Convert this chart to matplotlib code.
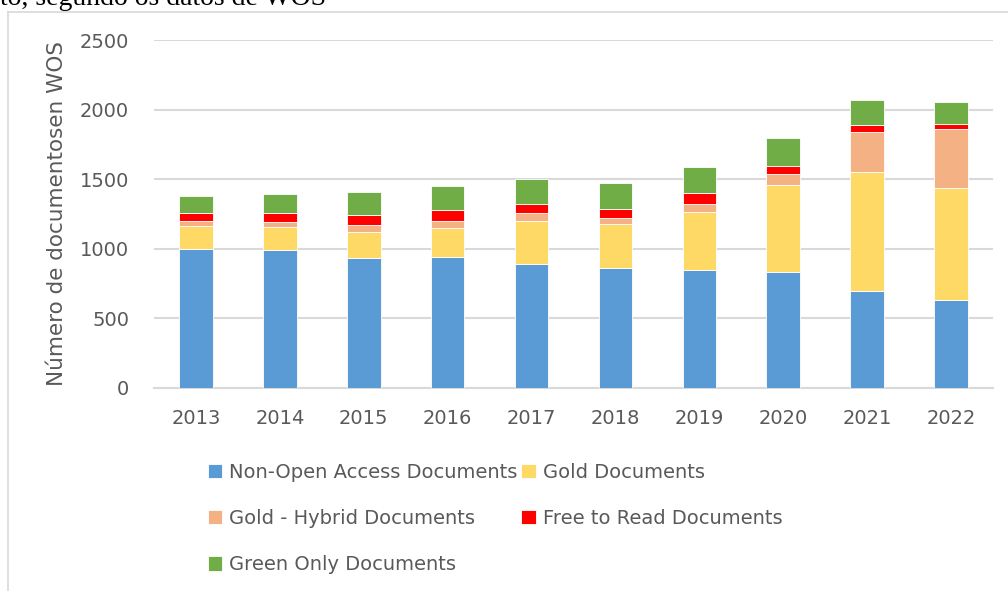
import numpy as np
import matplotlib.pyplot as plt
from matplotlib.lines import Line2D

years = ["2013", "2014", "2015", "2016", "2017", "2018", "2019", "2020", "2021", "2022"]
non_open = [1000, 990, 936, 943, 893, 863, 849, 835, 698, 631]
gold = [166, 167, 187, 206, 307, 312, 417, 625, 852, 804]
gold_hybrid = [34, 33, 48, 53, 60, 48, 58, 80, 290, 426]
free_read = [60, 65, 74, 77, 60, 60, 74, 57, 52, 38]
green_only = [120, 136, 165, 174, 181, 187, 192, 202, 176, 159]

series = [
    ("Non-Open Access Documents", non_open, "#5b9bd5"),
    ("Gold Documents", gold, "#ffd966"),
    ("Gold - Hybrid Documents", gold_hybrid, "#f4b183"),
    ("Free to Read Documents", free_read, "#ff0000"),
    ("Green Only Documents", green_only, "#70ad47"),
]

text_col = "#595959"
grid_col = "#d9d9d9"

fig = plt.figure(figsize=(10.08, 5.91), dpi=100)
ax = fig.add_axes([0.1528, 0.344, 0.8322, 0.588])

x = np.arange(len(years))
bottom = np.zeros(len(years))
handles = {}
for name, vals, col in series:
    vals = np.array(vals, dtype=float)
    h = ax.bar(x, vals, bottom=bottom, width=0.4, color=col, edgecolor="white",
               linewidth=0.6, label=name, zorder=3)
    handles[name] = h
    bottom += vals

ax.set_xlim(-0.5, len(years) - 0.5)
ax.set_ylim(0, 2500)
ax.set_yticks(np.arange(0, 2501, 500))
ax.set_xticks(x)
ax.set_xticklabels(years)
ax.yaxis.grid(True, color=grid_col, linewidth=1.5, zorder=0)
ax.set_axisbelow(True)
for s in ["top", "right", "left"]:
    ax.spines[s].set_visible(False)
ax.spines["bottom"].set_color(grid_col)
ax.spines["bottom"].set_linewidth(1.5)
ax.tick_params(axis="both", length=0, labelsize=14, labelcolor=text_col)
ax.tick_params(axis="x", pad=15)
ax.tick_params(axis="y", pad=18)
ax.set_ylabel("Número de documentosen WOS", fontsize=15.5, color=text_col, labelpad=9)

# legend laid out row-wise like the original (2 columns)
order = ["Non-Open Access Documents", "Gold - Hybrid Documents", "Green Only Documents",
         "Gold Documents", "Free to Read Documents"]
fig.legend([handles[n] for n in order], order, loc="upper left",
           bbox_to_anchor=(198 / 1008, 1 - 453 / 591), ncol=2, frameon=False,
           fontsize=14, labelcolor=text_col, handlelength=0.75, handleheight=0.75,
           handletextpad=0.35, columnspacing=0.2, labelspacing=1.4, borderpad=0)

# chart frame border and clipped caption from the document
fig.add_artist(Line2D([8 / 1008, 8 / 1008], [0, 1 - 12 / 591], color=grid_col, linewidth=1.2,
                      transform=fig.transFigure))
fig.add_artist(Line2D([8 / 1008, 1], [1 - 12 / 591, 1 - 12 / 591], color=grid_col, linewidth=1.2,
                      transform=fig.transFigure))
fig.text(0.0, 1 - 5 / 591, "to, segundo os datos de WOS", family="Liberation Serif",
         fontsize=20, color="black", va="baseline", ha="left")

fig.savefig("out.png", dpi=100)
